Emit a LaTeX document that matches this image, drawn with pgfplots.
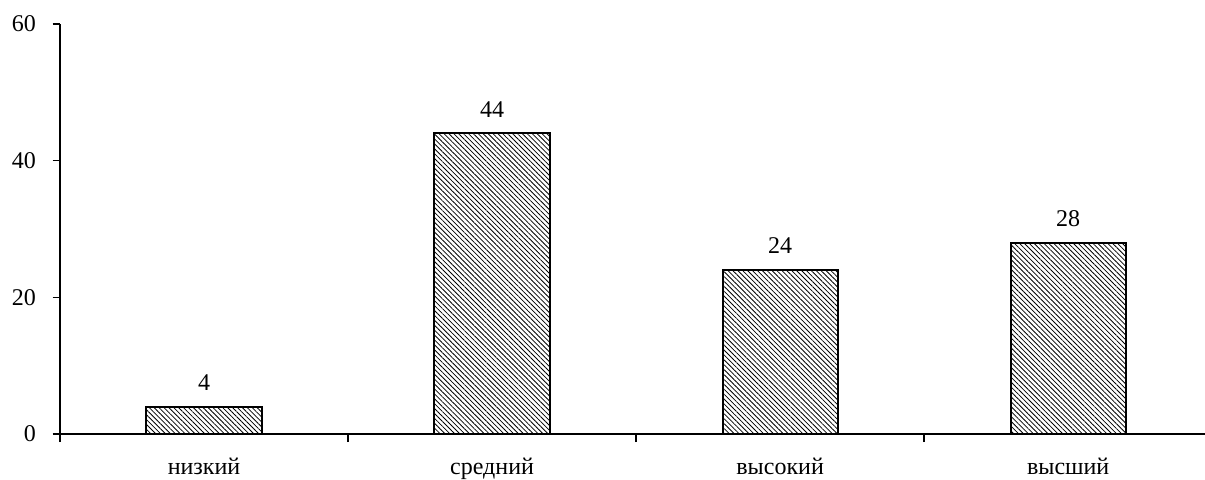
\documentclass[border=0pt]{standalone}
\usepackage{pgfplots}
\pgfplotsset{compat=1.18}
\usetikzlibrary{patterns.meta}
\usepackage{fontspec}
\setmainfont{Liberation Serif}
\begin{document}
\begin{tikzpicture}
\begin{axis}[
  scale only axis,
  width=858.75pt, height=307.5pt,
  xmin=-0.5, xmax=3.475, ymin=0, ymax=60,
  axis x line=bottom, axis y line=left,
  axis line style={-, line width=1.2pt},
  xtick={0,1,2,3},
  xticklabels={низкий,средний,высокий,высший},
  major x tick style={draw=none},
  minor xtick={-0.5,0.5,1.5,2.5},
  ytick={0,20,40,60},
  tick style={line width=1.2pt, black},
  tick align=outside,
  major tick length=5.5pt,
  minor tick length=6pt,
  ticklabel style={font=\fontsize{18}{21}\selectfont},
  /pgf/number format/assume math mode=true,
  xticklabel style={yshift=-9pt},
  yticklabel style={xshift=-9pt},
  nodes near coords,
  nodes near coords style={font=\fontsize{18}{21}\selectfont, yshift=8pt},
]
\addplot[ybar, bar width=0.4, draw=black, line width=1.5pt,
  pattern={Lines[angle=-45, distance=2.6pt, line width=0.6pt]}]
coordinates {(0,4) (1,44) (2,24) (3,28)};
\end{axis}
\pgfresetboundingbox
\path (current axis.south west) ++(-45pt,-33.75pt) coordinate (bl);
\path (current axis.north east) ++(0pt,18pt) coordinate (tr);
\useasboundingbox (bl) rectangle (tr);
\end{tikzpicture}
\end{document}
